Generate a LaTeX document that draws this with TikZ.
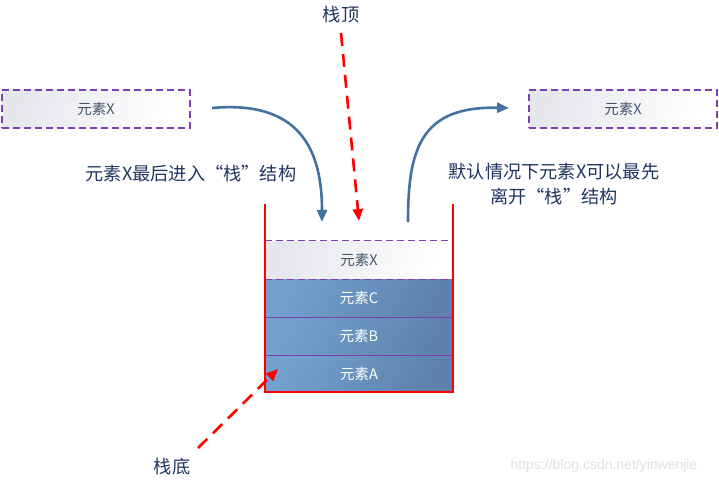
\documentclass[tikz,border=0pt]{standalone}
\usepackage{fontspec}
\newfontfamily\cjk{Noto Sans CJK SC}
\newfontfamily\wmfont{Liberation Sans}
\usetikzlibrary{arrows.meta}
\definecolor{boxpurple}{HTML}{7E3FB5}
\definecolor{sepurple}{HTML}{7A3FA8}
\definecolor{arrowblue}{HTML}{4472A0}
\definecolor{labelnavy}{HTML}{1F3560}
\definecolor{boxtext}{HTML}{44546A}
\definecolor{blueL}{HTML}{74A0CE}
\definecolor{blueR}{HTML}{5E82AC}
\definecolor{grayL}{HTML}{E6E7EC}
\tikzset{
  gbox/.style={minimum width=188pt, minimum height=38pt, inner sep=0pt,
    left color=grayL, right color=white, shading angle=70,
    text=boxtext, font=\cjk\fontsize{14.5}{16}\selectfont},
  dashbox/.style={gbox, draw=boxpurple, line width=1.2pt, dash pattern=on 7pt off 4pt},
  bluebox/.style={minimum width=188pt, minimum height=38pt, inner sep=0pt,
    left color=blueL, right color=blueR, shading angle=60,
    text=white, font=\cjk\fontsize{14.5}{16}\selectfont},
  sepline/.style={draw=sepurple, line width=0.9pt},
  wall/.style={draw=red, line width=2pt},
  purpledash/.style={draw=boxpurple, line width=1.2pt, dash pattern=on 7pt off 4pt},
  barrow/.style={draw=arrowblue, line width=2.6pt, -{Triangle[length=12pt,width=10pt]}},
  rarrow/.style={draw=red, line width=2.6pt, dash pattern=on 13pt off 8pt,
    -{Triangle[length=12pt,width=10pt]}},
  lbl/.style={text=labelnavy, inner sep=0pt, font=\cjk\fontsize{18.2}{25}\selectfont},
}
\begin{document}
\begin{tikzpicture}[x=1pt,y=-1pt]
\useasboundingbox (0,0) rectangle (719,486);
% side boxes
\node[dashbox] (lx) at (96,109) {元素X};
\node[dashbox] (rx) at (623,109) {元素X};
% stack contents
\node[gbox] (sx) at (359,260) {元素X};
\node[bluebox] (sc) at (359,298) {元素C};
\node[bluebox] (sb) at (359,336) {元素B};
\node[bluebox] (sa) at (359,373.5) {元素A};
\draw[sepline] (sc.south west) -- (sc.south east);
\draw[sepline] (sb.south west) -- (sb.south east);
\draw[purpledash] (sx.north west) -- (sx.north east);
\draw[purpledash] (sx.south west) -- (sx.south east);
% walls
\coordinate (wtl) at (265,204);
\coordinate (wbl) at (265,392);
\coordinate (wbr) at (453,392);
\coordinate (wtr) at (453,204);
\draw[wall] (wtl) -- (wbl) -- (wbr) -- (wtr);
% blue arrows
\coordinate (ins) at (212,108);
\coordinate (ine) at (322,222);
\draw[barrow] (ins) .. controls (300,100) and (322,150) .. (ine);
\coordinate (outs) at (408,222);
\coordinate (oute) at (509,108);
\draw[barrow] (outs) .. controls (408,150) and (420,106) .. (oute);
% labels
\node[lbl] (lin) at (191,174) {元素X最后进入“栈”结构};
\node[lbl, align=center] (lout) at (554,184) {默认情况下元素X可以最先\\离开“栈”结构};
\node[lbl] (top) at (341,15) {栈顶};
\node[lbl] (bot) at (172,467) {栈底};
% red arrows
\coordinate (ts) at (341,33);
\coordinate (te) at (359,221);
\draw[rarrow] (ts) -- (te);
\coordinate (bs) at (198,448);
\coordinate (be) at (278,369);
\draw[rarrow] (bs) -- (be);
% watermark
\node[text=black!12, inner sep=0pt, font=\wmfont\fontsize{14}{16}\selectfont] (wm) at (604,466) {https://blog.csdn.net/yinwenjie};
\end{tikzpicture}
\end{document}
